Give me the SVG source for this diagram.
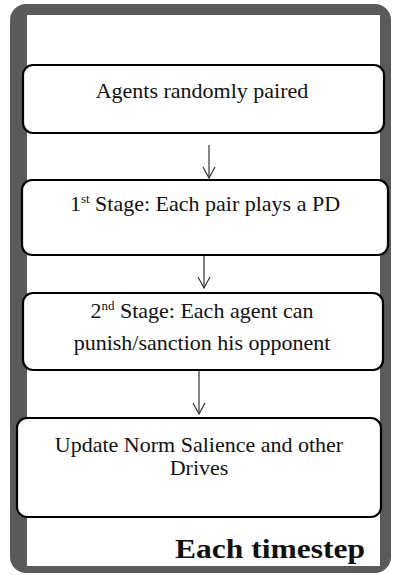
<svg xmlns="http://www.w3.org/2000/svg" width="393" height="575" viewBox="0 0 393 575">
<style>
.box{fill:#fff;stroke:#000;stroke-width:2.2}
.c{stroke:#333;stroke-width:1.2;fill:none}
</style>
<defs>
<marker id="ah" markerWidth="14" markerHeight="14" refX="12" refY="7" orient="auto" markerUnits="userSpaceOnUse" viewBox="0 0 14 14">
<path d="M1,1 L12,7 L1,13" fill="none" stroke="#333" stroke-width="1.2"/>
</marker>
</defs>
<g id="frame">
<rect x="10" y="4" width="381" height="569" rx="16" fill="#5a5a5a"/>
<rect x="27" y="15" width="353" height="551" fill="#fff"/>
</g>
<g id="connectors">
<line class="c" x1="209" y1="145" x2="209" y2="178" marker-end="url(#ah)"/>
<line class="c" x1="204" y1="255" x2="204" y2="288" marker-end="url(#ah)"/>
<line class="c" x1="199" y1="370" x2="199" y2="414" marker-end="url(#ah)"/>
</g>
<g font-family="Liberation Serif, Times New Roman, serif" font-size="22" fill="#111" text-anchor="middle">
<g id="n1">
<rect class="box" x="23" y="65" width="361" height="68" rx="10"/>
<text x="202" y="98">Agents randomly paired</text>
</g>
<g id="n2">
<rect class="box" x="22" y="180" width="366" height="75" rx="10"/>
<text x="205" y="211">1<tspan font-size="13" dy="-8">st</tspan><tspan dy="8"> Stage: Each pair plays a PD</tspan></text>
</g>
<g id="n3">
<rect class="box" x="23" y="293" width="360" height="77" rx="10"/>
<text x="202" y="318">2<tspan font-size="13" dy="-8">nd</tspan><tspan dy="8"> Stage: Each agent can</tspan></text>
<text x="202" y="350">punish/sanction his opponent</text>
</g>
<g id="n4">
<rect class="box" x="17" y="418" width="364" height="99" rx="10"/>
<text x="199" y="452">Update Norm Salience and other</text>
<text x="199" y="475">Drives</text>
</g>
</g>
<g id="label">
<text x="175" y="558" font-family="Liberation Serif, Times New Roman, serif" font-size="27" font-weight="bold" fill="#111" textLength="190" lengthAdjust="spacingAndGlyphs">Each timestep</text>
</g>
</svg>
